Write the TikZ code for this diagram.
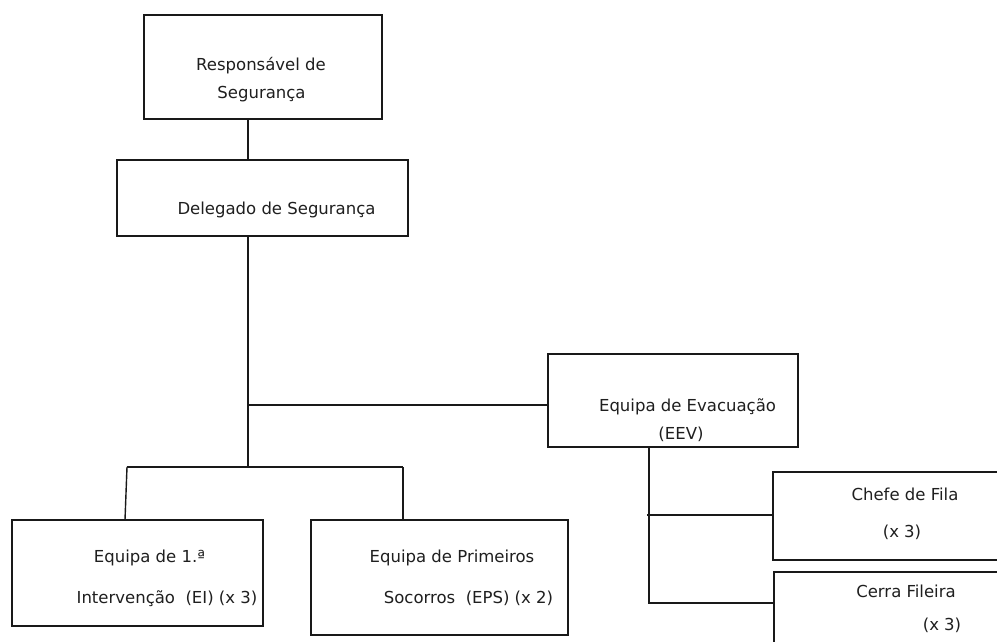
\documentclass[tikz,border=0pt]{standalone}
\usepackage{fontspec}
\setmainfont{DejaVu Sans}
\begin{document}
\begin{tikzpicture}[x=1pt,y=-1pt,
  box/.style={draw=black!90, line width=1.4pt, anchor=north west, inner sep=0pt, outer sep=0pt},
  lbl/.style={anchor=base, inner sep=0pt, font=\fontsize{16.5}{18}\selectfont, text=black!88},
  link/.style={draw=black!90, line width=1.4pt}]
\fill[white] (0,0) rectangle (997,642);
\useasboundingbox (0,0) rectangle (997,642);
\begin{scope}
\clip (0,0) rectangle (997,642);
% boxes
\node[box, minimum width=238pt, minimum height=104pt] (resp) at (144,15) {};
\node[box, minimum width=291pt, minimum height=76pt] (deleg) at (117,160) {};
\node[box, minimum width=250pt, minimum height=93pt] (eev) at (548,354) {};
\node[box, minimum width=251pt, minimum height=106pt] (ei) at (12,520) {};
\node[box, minimum width=257pt, minimum height=115pt] (eps) at (311,520) {};
\node[box, minimum width=240pt, minimum height=88pt] (chefe) at (773,472) {};
\node[box, minimum width=240pt, minimum height=90pt] (cerra) at (774,572) {};
% texts
\node[lbl] (resp1) at (261,71) {Responsável de};
\node[lbl] (resp2) at (261.5,99) {Segurança};
\node[lbl] (deleg1) at (276.5,214) {Delegado de Segurança};
\node[lbl] (eev1) at (687.5,411) {Equipa de Evacuação};
\node[lbl] (eev2) at (681,439) {(EEV)};
\node[lbl] (ei1) at (149.5,562) {Equipa de 1.ª};
\node[lbl] (ei2) at (167,603) {Intervenção\ \ (EI) (x 3)};
\node[lbl] (eps1) at (452,562) {Equipa de Primeiros};
\node[lbl] (eps2) at (468.5,603) {Socorros\ \ (EPS) (x 2)};
\node[lbl] (chefe1) at (905,500) {Chefe de Fila};
\node[lbl] (chefe2) at (902,537) {(x 3)};
\node[lbl] (cerra1) at (906,597) {Cerra Fileira};
\node[lbl] (cerra2) at (942,630) {(x 3)};
% junctions
\coordinate (sp) at (248,405);
\coordinate (barM) at (248,467);
\coordinate (barL) at (127,467);
\coordinate (barR) at (403,467);
\coordinate (es1) at (647,515);
\coordinate (es2) at (649,603);
% connectors
\draw[link] (sp |- resp.south) -- (sp |- deleg.north);
\draw[link] (sp |- deleg.south) -- (barM);
\draw[link] (sp) -- (sp -| eev.west);
\draw[link] (barL) -- (barR);
\draw[link] (barL) -- ([xshift=-2pt]barL |- ei.north);
\draw[link] (barR) -- (barR |- eps.north);
\draw[link] (es2 |- eev.south) -- (es2) -- (es2 -| cerra.west);
\draw[link] (es1) -- (es1 -| chefe.west);
\end{scope}
\end{tikzpicture}
\end{document}
